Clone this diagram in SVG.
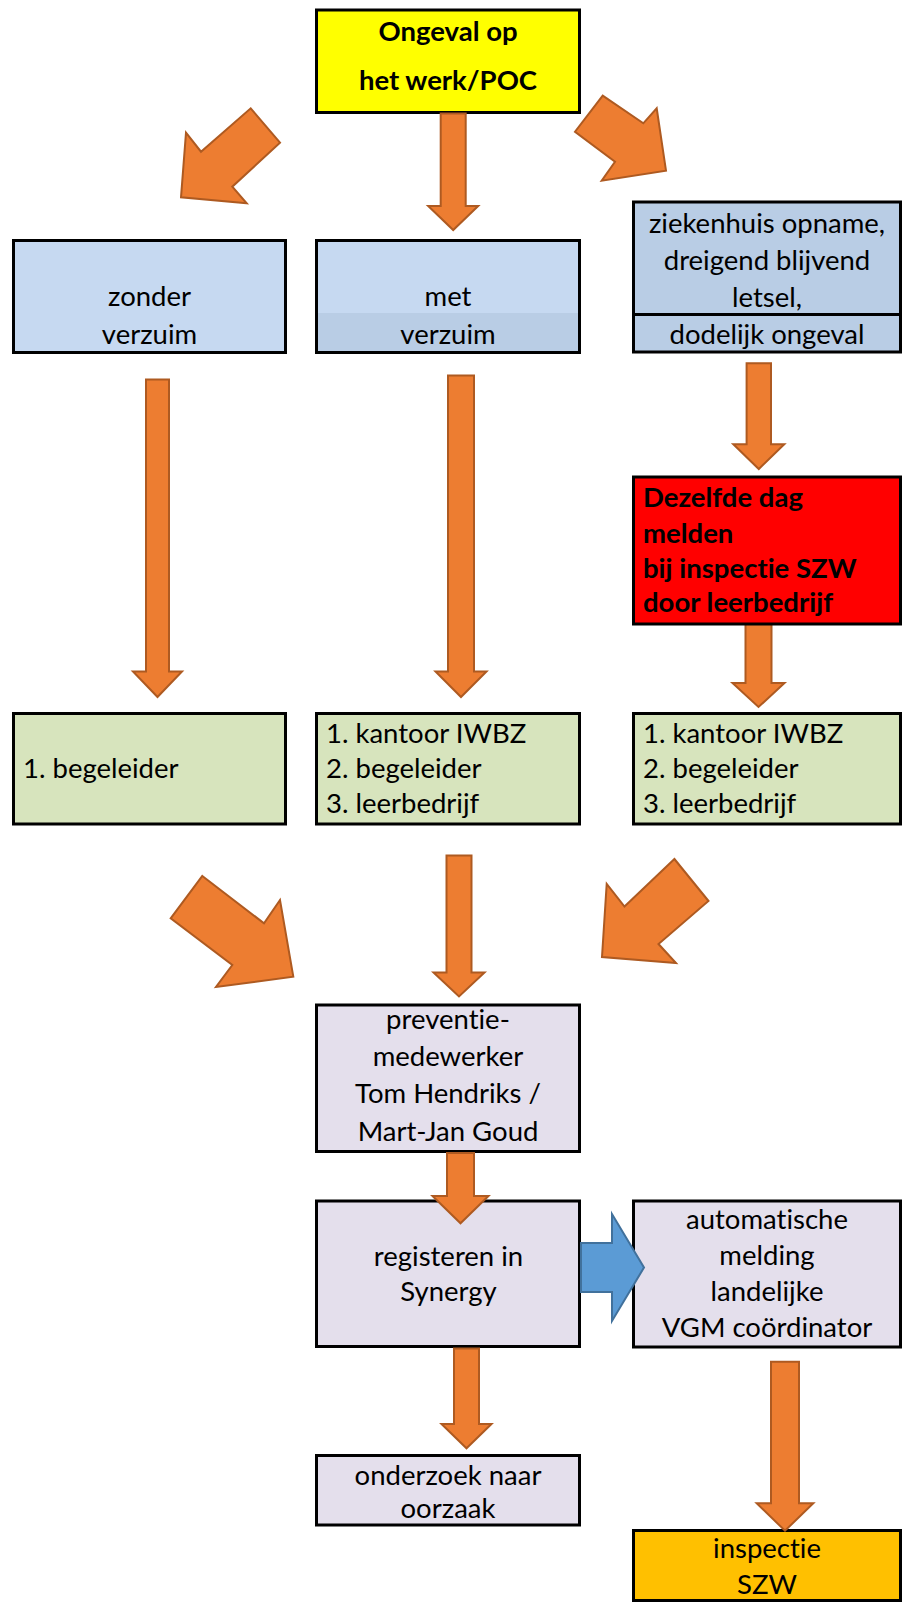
<svg xmlns="http://www.w3.org/2000/svg" width="902" height="1602" viewBox="0 0 902 1602">
<style>
.box{stroke:#000;stroke-width:3}
.t{font-family:Lato,"Liberation Sans",sans-serif;font-size:27.5px;fill:#000;font-variant-ligatures:none}
.c{text-anchor:middle}
.b{font-weight:bold}
.arr{fill:#ed7d31;stroke:#ae5a21;stroke-width:2;stroke-linejoin:miter}
.barr{fill:#5b9bd5;stroke:#41719c;stroke-width:2}
</style>
<rect width="902" height="1602" fill="#fff"/>

<g id="connectors-under">
<polygon class="arr" points="745.5,620 771.5,620 771.5,683 784.5,683 758.5,707 732.5,683 745.5,683"/>
</g>

<g id="n-ongeval">
<rect class="box" x="316.5" y="10" width="263" height="102.5" fill="#ffff00"/>
<text class="t b c" x="448" y="41">Ongeval op</text>
<text class="t b c" x="448" y="90">het werk/POC</text>
</g>

<g id="n-zonder">
<rect class="box" x="13.5" y="240.5" width="272" height="112" fill="#c6d9f1"/>
<text class="t c" x="149.5" y="306">zonder</text>
<text class="t c" x="149.5" y="344">verzuim</text>
</g>

<g id="n-met">
<rect x="316.5" y="240.5" width="263" height="72.5" fill="#c6d9f1"/>
<rect x="316.5" y="313" width="263" height="39.5" fill="#b9cde5"/>
<rect x="316.5" y="240.5" width="263" height="112" fill="none" class="box"/>
<text class="t c" x="448" y="306">met</text>
<text class="t c" x="448" y="344">verzuim</text>
</g>

<g id="n-ziekenhuis">
<rect class="box" x="633.5" y="202" width="267" height="150" fill="#b9cde5"/>
<line x1="633.5" y1="314.5" x2="900.5" y2="314.5" stroke="#000" stroke-width="3"/>
<text class="t c" x="767" y="233">ziekenhuis opname,</text>
<text class="t c" x="767" y="270">dreigend blijvend</text>
<text class="t c" x="767" y="307">letsel,</text>
<text class="t c" x="767" y="344">dodelijk ongeval</text>
</g>

<g id="n-melden">
<rect class="box" x="633.5" y="477" width="267" height="147" fill="#ff0000"/>
<text class="t b" x="643" y="507">Dezelfde dag</text>
<text class="t b" x="643" y="543">melden</text>
<text class="t b" x="643" y="578">bij inspectie SZW</text>
<text class="t b" x="643" y="612">door leerbedrijf</text>
</g>

<g id="n-begeleider">
<rect class="box" x="13.5" y="713.5" width="272" height="110.5" fill="#d7e4bd"/>
<text class="t" x="23" y="778">1. begeleider</text>
</g>

<g id="n-kantoor-mid">
<rect class="box" x="316.5" y="713.5" width="263" height="110.5" fill="#d7e4bd"/>
<text class="t" x="326" y="743">1. kantoor IWBZ</text>
<text class="t" x="326" y="778">2. begeleider</text>
<text class="t" x="326" y="813">3. leerbedrijf</text>
</g>

<g id="n-kantoor-right">
<rect class="box" x="633.5" y="713.5" width="267" height="110.5" fill="#d7e4bd"/>
<text class="t" x="643" y="743">1. kantoor IWBZ</text>
<text class="t" x="643" y="778">2. begeleider</text>
<text class="t" x="643" y="813">3. leerbedrijf</text>
</g>

<g id="n-preventie">
<rect class="box" x="316.5" y="1005" width="263" height="146.5" fill="#e4dfec"/>
<text class="t c" x="448" y="1029">preventie-</text>
<text class="t c" x="448" y="1066">medewerker</text>
<text class="t c" x="448" y="1103">Tom Hendriks /</text>
<text class="t c" x="448" y="1141">Mart-Jan Goud</text>
</g>

<g id="n-registeren">
<rect class="box" x="316.5" y="1201" width="263" height="145.5" fill="#e4dfec"/>
<text class="t c" x="448.5" y="1266">registeren in</text>
<text class="t c" x="448.5" y="1301">Synergy</text>
</g>

<g id="n-automatische">
<rect class="box" x="633.5" y="1201" width="267" height="146" fill="#e4dfec"/>
<text class="t c" x="767" y="1229">automatische</text>
<text class="t c" x="767" y="1265">melding</text>
<text class="t c" x="767" y="1301">landelijke</text>
<text class="t c" x="767" y="1337">VGM coördinator</text>
</g>

<g id="n-onderzoek">
<rect class="box" x="316.5" y="1455.5" width="263" height="69.5" fill="#e4dfec"/>
<text class="t c" x="448" y="1485">onderzoek naar</text>
<text class="t c" x="448" y="1518">oorzaak</text>
</g>

<g id="n-inspectie">
<rect class="box" x="633.5" y="1530.5" width="267" height="70" fill="#ffc000"/>
<text class="t c" x="767" y="1558">inspectie</text>
<text class="t c" x="767" y="1594">SZW</text>
</g>

<g id="connectors">
<polygon class="arr" points="250.7,108.3 280,142.7 232.3,186.7 246.7,203.3 181,197.3 186,132.7 201,151.7"/>
<polygon class="arr" points="440.7,113.5 465.7,113.5 465.7,206 478.2,206 453.2,230 428.2,206 440.7,206"/>
<polygon class="arr" points="602.7,95.7 643.3,123.3 656.7,108.3 666,170.7 601.7,180.7 615,161.7 575,131.7"/>
<polygon class="arr" points="146,379.5 169,379.5 169,671.5 182,671.5 157.5,697 133,671.5 146,671.5"/>
<polygon class="arr" points="448,375.5 474,375.5 474,671.5 486.5,671.5 461,697 435.5,671.5 448,671.5"/>
<polygon class="arr" points="746.6,363.3 771,363.3 771,444.3 784.3,444.3 758.8,469 733.3,444.3 746.6,444.3"/>
<polygon class="arr" points="202.3,876 264,923.3 280,900 293.3,976.7 216,987 232.3,965 170.7,918.3"/>
<polygon class="arr" points="446.5,855.5 471.5,855.5 471.5,972.5 484.5,972.5 459,996.5 433.5,972.5 446.5,972.5"/>
<polygon class="arr" points="674.4,859 708.5,901 658.5,944 676,963 602,957 606.7,884 624.5,906.5"/>
<polygon class="arr" points="447,1153 474,1153 474,1196 488.5,1196 460.5,1223.3 432.5,1196 447,1196"/>
<polygon class="barr" points="581,1243 612,1243 612,1214 644,1267.5 612,1321 612,1292 581,1292"/>
<polygon class="arr" points="454,1348.5 479,1348.5 479,1424 491.5,1424 466.5,1448.3 441.5,1424 454,1424"/>
<polygon class="arr" points="771,1361.7 799,1361.7 799,1503.3 813.3,1503.3 785,1530.7 756.7,1503.3 771,1503.3"/>
</g>
</svg>
